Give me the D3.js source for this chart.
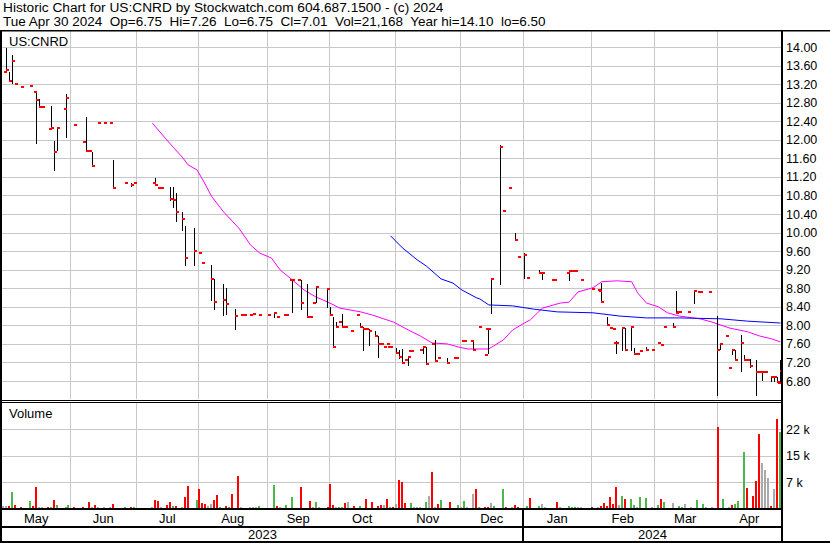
<!DOCTYPE html>
<html><head><meta charset="utf-8">
<script src="https://cdn.jsdelivr.net/npm/d3@7"></script>
<style>
body{margin:0;background:#fff}
svg{display:block}
text{font-family:"Liberation Sans",Arial,sans-serif;fill:#000}
</style>
</head><body><svg id="c" width="830" height="543"></svg>
<script>
// ---------------- DATA ----------------
const titleLine1 = "Historic Chart for US:CNRD by Stockwatch.com 604.687.1500 - (c) 2024";
const titleLine2 = "Tue Apr 30 2024  Op=6.75  Hi=7.26  Lo=6.75  Cl=7.01  Vol=21,168  Year hi=14.10  lo=6.50";
const symbolLabel = "US:CNRD";
const firstDay = "2023-05-01", lastDay = "2024-04-30";
const priceTicks = [6.8,7.2,7.6,8.0,8.4,8.8,9.2,9.6,10.0,10.4,10.8,11.2,11.6,12.0,12.4,12.8,13.2,13.6,14.0];
const volumeTicks = [7333, 14667, 22000];
const volumeTickLabels = ["7 k","15 k","22 k"];
const yearLabels = ["2023","2024"];
// [weekday index since first day, open, high, low, close]
const priceBars = [
 [1,13.46,13.98,13.46,13.50],[2,null,13.46,13.27,13.27],[3,null,13.83,13.22,13.70],[4,null,null,null,13.20],
 [6,null,null,null,13.14],[9,null,null,null,13.16],[11,13.03,13.03,11.93,12.86],[12,null,12.88,12.71,12.71],
 [13,null,null,null,12.71],[16,12.23,12.73,12.23,12.25],[17,null,11.97,11.35,11.74],[18,null,12.28,11.78,12.25],
 [21,12.66,12.99,12.06,12.90],[24,null,null,null,12.32],[27,null,null,null,11.95],[28,null,12.49,11.76,11.76],
 [29,null,null,null,11.76],[30,null,11.74,11.44,11.44],[32,null,null,null,12.36],[34,null,null,null,12.36],
 [36,null,null,null,12.36],[37,null,11.56,10.96,10.96],[41,null,null,null,11.07],[43,null,11.07,11.00,11.03],
 [44,null,null,null,11.07],[51,11.07,11.18,11.05,11.03],[52,null,null,null,10.96],[53,null,null,null,10.96],
 [56,null,10.98,10.70,10.72],[57,null,10.98,10.55,10.70],[58,null,10.85,10.25,10.45],[60,null,10.45,10.05,10.30],
 [61,null,10.15,9.30,9.45],[64,null,10.10,9.30,9.60],[66,null,null,null,9.55],[67,null,null,null,9.35],
 [70,null,9.30,8.55,9.00],[71,null,9.00,8.35,8.50],[74,null,8.90,8.22,8.55],[75,null,8.80,8.25,8.45],
 [78,null,8.35,7.92,8.20],[80,null,null,null,8.22],[81,null,null,null,8.22],[83,null,null,null,8.22],
 [84,null,null,null,8.25],[86,null,null,null,8.22],[89,null,null,null,8.22],[91,null,8.29,8.18,8.27],
 [92,null,null,null,8.18],[95,8.22,null,null,8.22],[97,8.98,8.98,8.29,8.98],[99,null,null,null,8.98],
 [100,null,8.98,8.35,8.48],[102,null,8.89,8.18,8.18],[103,null,null,null,8.18],[104,null,null,null,8.48],
 [105,null,8.83,8.50,8.83],[109,null,8.78,8.40,8.78],[110,null,8.40,8.22,8.22],[111,null,8.18,7.53,7.53],
 [112,null,8.07,7.97,7.97],[113,null,null,null,8.07],[114,null,8.25,7.97,7.97],[115,null,null,null,7.97],
 [117,null,null,null,7.88],[119,null,null,null,8.22],[120,null,8.05,7.97,7.97],[121,null,7.97,7.47,7.92],
 [122,null,null,null,7.92],[123,null,7.92,7.58,7.88],[125,null,7.88,7.77,7.77],[126,null,7.77,7.32,7.60],
 [127,null,null,null,7.60],[128,null,null,null,7.53],[129,null,null,null,7.60],[130,7.53,null,null,7.53],
 [132,null,7.51,7.41,7.41],[133,null,7.47,7.30,7.32],[134,null,7.49,7.19,7.19],[135,null,null,null,7.25],
 [136,null,7.34,7.15,7.32],[137,7.45,null,null,7.45],[140,null,null,null,7.47],[141,null,7.56,7.41,7.53],
 [142,null,7.53,7.17,7.17],[144,null,null,null,7.60],[145,null,7.69,7.23,7.23],[146,null,null,null,7.30],
 [149,null,7.30,7.19,7.19],[152,7.30,7.32,7.30,7.30],[155,7.66,null,null,7.66],[158,7.66,7.69,7.47,7.47],
 [160,null,null,null,7.97],[162,null,null,null,7.36],[163,7.92,7.92,7.41,7.92],[164,null,9.00,8.27,9.00],
 [167,null,11.89,8.89,11.85],[168,null,null,null,10.47],[170,null,null,null,10.96],[172,null,10.00,9.84,9.84],
 [173,null,null,null,9.47],[175,null,9.56,9.02,9.52],[176,null,null,null,9.02],[180,null,9.20,9.13,9.13],
 [181,9.13,9.13,9.00,9.13],[185,8.98,null,null,8.98],[190,9.13,9.17,8.98,9.17],[191,null,null,null,9.17],
 [192,null,null,null,9.17],[194,null,null,null,8.98],[198,null,null,null,8.78],[200,null,null,null,8.76],
 [201,8.74,8.91,8.50,8.50],[203,null,8.18,8.01,8.01],[204,null,null,null,7.94],[205,null,null,null,7.92],
 [206,7.62,7.66,7.41,7.62],[208,null,7.94,7.47,7.94],[209,null,7.94,7.47,7.47],[211,null,7.97,7.47,7.97],
 [212,null,7.51,7.38,7.38],[213,null,null,null,7.38],[214,null,null,null,7.45],[216,null,7.53,7.47,7.47],
 [218,null,null,null,7.47],[220,null,null,null,7.62],[221,null,null,null,7.58],[222,null,null,null,7.97],
 [225,null,8.05,7.97,7.97],[226,null,8.74,8.27,8.27],[227,8.29,null,null,8.29],[230,null,null,null,8.29],
 [232,null,8.74,8.48,8.74],[234,8.72,null,null,8.72],[237,null,null,null,8.72],[240,null,8.20,6.50,7.47],
 [241,null,7.62,7.49,7.60],[243,null,null,null,7.77],[244,null,null,null,7.08],[245,null,7.49,7.38,7.47],
 [246,null,7.47,7.25,7.25],[248,null,7.79,7.02,7.62],[249,null,7.36,7.25,7.25],[250,null,null,null,7.25],
 [251,null,7.28,7.10,7.12],[253,null,7.25,6.50,7.00],[254,null,null,null,7.00],[255,null,7.00,6.82,7.00],
 [256,null,null,null,7.00],[258,null,6.91,6.80,6.89],[259,null,6.89,6.80,6.89],[260,null,6.89,6.78,6.78],
 [261,6.75,7.26,6.75,7.01]
];
// [weekday index, moving average value]
const maMagenta = [
 [50,12.36],[54,12.06],[57,11.84],[60,11.63],[62,11.46],[65,11.35],[67,11.13],[70,10.77],[74,10.44],[79,10.10],
 [83,9.73],[86,9.56],[90,9.45],[93,9.19],[97,8.98],[101,8.76],[105,8.61],[109,8.50],[113,8.37],[120,8.29],
 [124,8.22],[131,8.07],[136,7.90],[140,7.77],[144,7.62],[149,7.60],[153,7.53],[156,7.49],[163,7.49],[168,7.69],
 [171,7.90],[175,8.05],[177,8.12],[181,8.37],[187,8.48],[190,8.50],[193,8.72],[198,8.81],[201,8.94],[206,8.96],
 [211,8.94],[213,8.70],[216,8.48],[220,8.40],[223,8.27],[227,8.20],[234,8.14],[238,8.07],[244,7.94],[250,7.86],
 [254,7.77],[258,7.71],[261,7.64]
];
const maBlue = [
 [130,9.93],[134,9.67],[139,9.41],[142,9.28],[147,9.00],[151,8.91],[154,8.76],[159,8.59],[160,8.57],[163,8.44],
 [171,8.42],[178,8.35],[186,8.29],[198,8.27],[207,8.20],[216,8.16],[227,8.16],[241,8.14],[250,8.09],[261,8.05]
];
// [weekday index, volume, direction: 1 up, -1 down, 0 unchanged]
const volumeBars = [
 [0,700,0],[1,700,0],[2,700,-1],[3,4800,1],[4,1200,-1],[6,500,-1],[9,2300,1],[10,700,-1],[11,6100,-1],[12,600,0],
 [13,600,0],[15,500,-1],[16,600,1],[17,2600,-1],[18,1200,1],[21,500,1],[22,1200,1],[24,500,-1],[27,600,-1],[29,2000,-1],
 [30,500,0],[31,1000,-1],[32,500,0],[34,500,0],[36,500,0],[37,1500,-1],[41,600,1],[43,600,-1],[44,500,1],[50,500,0],
 [51,2600,-1],[52,2300,-1],[53,500,0],[55,1200,-1],[56,2000,-1],[57,900,1],[58,900,-1],[60,500,0],[61,3400,-1],[62,6400,-1],
 [65,2600,1],[66,5600,-1],[67,1600,-1],[68,1400,-1],[69,700,0],[70,1500,0],[71,2600,-1],[72,3900,-1],[73,600,1],[75,900,-1],
 [76,600,1],[77,4200,-1],[79,9200,-1],[80,500,0],[83,500,0],[84,500,0],[85,500,0],[86,900,1],[89,300,0],[91,6700,1],
 [92,900,-1],[93,500,0],[95,1200,1],[97,3400,1],[100,6100,-1],[103,2300,-1],[104,500,0],[105,2000,1],[106,500,0],[109,600,-1],
 [110,6900,-1],[111,1200,-1],[112,500,0],[113,600,1],[114,600,1],[115,1700,-1],[116,2000,0],[118,900,-1],[120,900,1],[122,2800,-1],
 [124,2000,-1],[126,900,-1],[127,1200,-1],[128,1200,0],[129,2800,-1],[130,500,1],[131,600,-1],[132,1500,0],[133,7900,-1],[134,7500,-1],
 [135,1700,-1],[137,1700,1],[138,500,0],[139,500,0],[140,500,0],[142,2000,1],[143,3700,0],[144,10300,-1],[145,500,0],[146,1500,-1],
 [147,2600,1],[150,2000,-1],[153,1200,1],[154,500,0],[155,2300,1],[156,500,0],[158,4200,0],[159,5400,-1],[160,600,1],[162,600,-1],
 [163,500,-1],[164,1700,0],[165,900,1],[168,5600,1],[169,600,-1],[171,500,0],[172,1200,-1],[173,600,-1],[176,900,1],[177,3100,-1],
 [180,900,1],[181,1500,0],[182,500,0],[186,2000,-1],[187,500,0],[190,900,1],[191,600,1],[192,600,1],[193,500,0],[194,500,0],
 [198,600,-1],[200,500,0],[201,900,-1],[202,1700,-1],[203,900,-1],[204,3400,-1],[205,1500,-1],[206,6100,-1],[207,1200,0],[208,3700,1],
 [209,2800,-1],[211,2800,1],[212,1200,1],[213,500,0],[214,3400,1],[216,3100,1],[218,500,0],[220,1200,1],[221,2800,-1],[222,1900,1],
 [225,1700,0],[227,900,1],[228,600,1],[229,1500,0],[231,500,0],[233,2600,1],[235,1500,1],[236,500,0],[238,500,0],[240,22600,-1],
 [242,2800,1],[244,500,0],[245,1200,-1],[246,1500,1],[247,2300,1],[249,15700,1],[250,5800,-1],[252,3700,-1],[253,7700,-1],[254,20700,-1],
 [255,12700,0],[256,10800,0],[257,8600,0],[258,900,-1],[259,5600,0],[260,24800,-1],[261,21300,1]
];

// ---------------- LAYOUT ----------------
const W = 830, H = 543;
const plotL = 2, plotR = 782;
const priceTop = 31, priceBot = 399;
const volTop = 403, volBot = 509;
const svg = d3.select("#c");

// weekday calendar (axis domain)
const parse = d3.timeParse("%Y-%m-%d");
const days = d3.timeDay.range(parse(firstDay), d3.timeDay.offset(parse(lastDay), 1))
  .filter(d => d.getDay() !== 0 && d.getDay() !== 6);
const idx = d3.range(days.length);
const x = d3.scaleBand().domain(idx).range([plotL, plotR]).padding(0);
const bw = x.bandwidth();
const cx = i => x(i) + bw / 2;

const y = d3.scaleLinear().domain([6.8, 14.0]).range([381, 47]);
const yv = d3.scaleLinear().domain([0, 22000]).range([volBot, 429]);

// month starts
const monthStarts = [];
days.forEach((d, i) => { if (i === 0 || d.getMonth() !== days[i - 1].getMonth()) monthStarts.push(i); });
const monthSpans = monthStarts.map((s, k) => [s, k + 1 < monthStarts.length ? monthStarts[k + 1] : days.length]);

const grid = "#c8c8c8";

svg.append("clipPath").attr("id", "pclip").append("rect")
  .attr("x", plotL).attr("y", priceTop).attr("width", plotR - plotL).attr("height", priceBot - priceTop);
svg.append("clipPath").attr("id", "vclip").append("rect")
  .attr("x", plotL).attr("y", volTop).attr("width", plotR - plotL).attr("height", volBot - volTop);

// ---- price grid
const pg = svg.append("g").attr("clip-path", "url(#pclip)");
pg.selectAll("line.h").data(priceTicks).join("line")
  .attr("x1", plotL).attr("x2", plotR)
  .attr("y1", d => Math.round(y(d)) + 0.5).attr("y2", d => Math.round(y(d)) + 0.5)
  .attr("stroke", grid);
pg.selectAll("line.v").data(monthStarts.slice(1)).join("line")
  .attr("x1", d => Math.round(x(d)) + 0.5).attr("x2", d => Math.round(x(d)) + 0.5)
  .attr("y1", priceTop).attr("y2", priceBot).attr("stroke", grid);

// ---- moving averages
const maLine = d3.line().x(d => cx(d[0])).y(d => y(d[1]));
pg.append("path").datum(maMagenta).attr("d", maLine).attr("fill", "none").attr("stroke", "#ff00ff").attr("stroke-width", 1);
pg.append("path").datum(maBlue).attr("d", maLine).attr("fill", "none").attr("stroke", "#0000ff").attr("stroke-width", 1);

// ---- price bars
const bars = priceBars.map(r => ({i: r[0], o: r[1], h: r[2], l: r[3], c: r[4]}));
const lx = d => Math.floor(cx(d.i));
pg.selectAll("line.hl").data(bars.filter(d => d.h !== null && d.h > d.l)).join("line")
  .attr("x1", d => lx(d) + 0.5).attr("x2", d => lx(d) + 0.5)
  .attr("y1", d => Math.round(y(d.h))).attr("y2", d => Math.round(y(d.l)) + 1)
  .attr("stroke", "#000").attr("stroke-width", 1);
pg.selectAll("rect.op").data(bars.filter(d => d.o !== null)).join("rect")
  .attr("x", d => lx(d) - 2).attr("y", d => Math.round(y(d.o)) - 1)
  .attr("width", 3).attr("height", 2).attr("fill", "#ff0000");
pg.selectAll("rect.cl").data(bars).join("rect")
  .attr("x", d => lx(d)).attr("y", d => Math.round(y(d.c)) - 1)
  .attr("width", 3).attr("height", 2).attr("fill", "#ff0000");

svg.append("text").attr("x", 9).attr("y", 46).attr("font-size", 13).text(symbolLabel);

// ---- volume panel
const vg = svg.append("g").attr("clip-path", "url(#vclip)");
vg.selectAll("line.h").data(volumeTicks).join("line")
  .attr("x1", plotL).attr("x2", plotR)
  .attr("y1", d => Math.round(yv(d)) + 0.5).attr("y2", d => Math.round(yv(d)) + 0.5).attr("stroke", grid);
vg.selectAll("line.v").data(monthStarts.slice(1)).join("line")
  .attr("x1", d => Math.round(x(d)) + 0.5).attr("x2", d => Math.round(x(d)) + 0.5)
  .attr("y1", volTop).attr("y2", volBot).attr("stroke", grid);
const vcol = d => d[2] > 0 ? "#4cb84c" : d[2] < 0 ? "#ff0000" : "#aaaaaa";
vg.selectAll("rect.vb").data(volumeBars).join("rect")
  .attr("x", d => Math.round(x(d[0]))).attr("width", 2)
  .attr("y", d => Math.round(yv(d[1]))).attr("height", d => volBot - Math.round(yv(d[1])))
  .attr("fill", vcol);
svg.append("text").attr("x", 9).attr("y", 418).attr("font-size", 13).text("Volume");

// ---- axes labels (right)
svg.append("g").selectAll("text").data(priceTicks).join("text")
  .attr("x", 786).attr("y", d => y(d)).attr("dy", "0.36em").attr("font-size", 12.5)
  .text(d => d3.format(".2f")(d));
svg.append("g").selectAll("text").data(volumeTicks).join("text")
  .attr("x", 786).attr("y", d => yv(d)).attr("dy", "0.36em").attr("font-size", 12.5)
  .text((d, k) => volumeTickLabels[k]);

// ---- month & year labels
const monthFmt = d3.timeFormat("%b");
svg.append("g").selectAll("text").data(monthSpans).join("text")
  .attr("x", d => (x(d[0]) + x(d[1] - 1) + bw) / 2).attr("y", 523)
  .attr("text-anchor", "middle").attr("font-size", 13)
  .text(d => monthFmt(days[d[0]]));
const yearSplit = days.findIndex(d => d.getFullYear() === 2024);
const yearSpans = [[plotL, x(yearSplit)], [x(yearSplit), plotR]];
svg.append("g").selectAll("text").data(yearSpans).join("text")
  .attr("x", d => (d[0] + d[1]) / 2).attr("y", 539).attr("text-anchor", "middle").attr("font-size", 13)
  .text((d, k) => yearLabels[k]);

// ---- frame lines
const fr = svg.append("g").attr("fill", "#000");
fr.append("rect").attr("x", 0).attr("y", 30).attr("width", W).attr("height", 1.5);
fr.append("rect").attr("x", 0).attr("y", 30).attr("width", 2).attr("height", H - 30);
fr.append("rect").attr("x", 781).attr("y", 30).attr("width", 2).attr("height", H - 30);
fr.append("rect").attr("x", 0).attr("y", 400).attr("width", 782).attr("height", 1);
fr.append("rect").attr("x", 0).attr("y", 402).attr("width", 782).attr("height", 1);
fr.append("rect").attr("x", 0).attr("y", 508).attr("width", 782).attr("height", 2);
fr.append("rect").attr("x", 0).attr("y", 526).attr("width", 782).attr("height", 2);
fr.append("rect").attr("x", Math.round(x(yearSplit)) - 1).attr("y", 509).attr("width", 2).attr("height", 33);
fr.append("rect").attr("x", 0).attr("y", 541).attr("width", W).attr("height", 2);

// ---- title
svg.append("text").attr("x", 3).attr("y", 12).attr("font-size", 13.7).text(titleLine1);
svg.append("text").attr("x", 3).attr("y", 26).attr("font-size", 13.5).attr("xml:space", "preserve")
  .style("white-space", "pre").text(titleLine2);
</script>
</body></html>
